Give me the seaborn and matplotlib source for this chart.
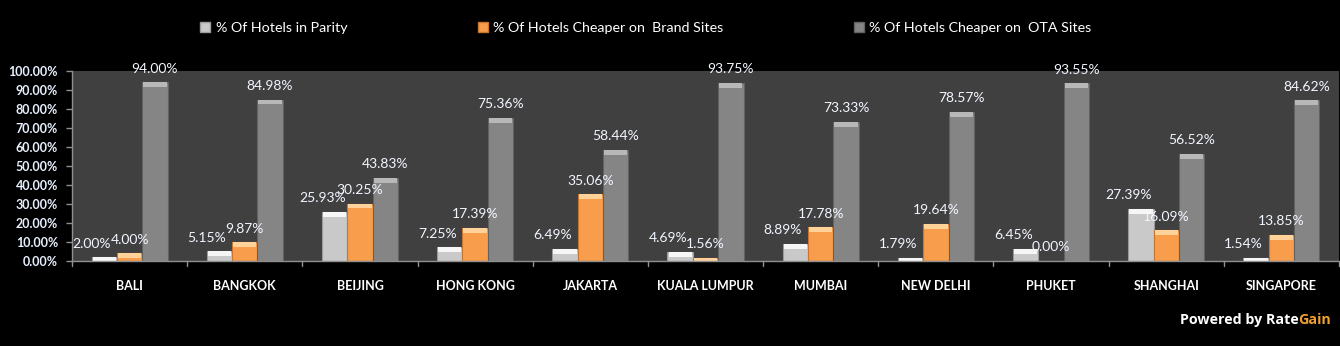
import matplotlib
matplotlib.use("Agg")
import matplotlib.pyplot as plt
import seaborn as sns
import pandas as pd
from matplotlib.patches import Rectangle, Patch

cities = ["BALI", "BANGKOK", "BEIJING", "HONG KONG", "JAKARTA", "KUALA LUMPUR",
          "MUMBAI", "NEW DELHI", "PHUKET", "SHANGHAI", "SINGAPORE"]
parity = [2.00, 5.15, 25.93, 7.25, 6.49, 4.69, 8.89, 1.79, 6.45, 27.39, 1.54]
brand = [4.00, 9.87, 30.25, 17.39, 35.06, 1.56, 17.78, 19.64, 0.00, 16.09, 13.85]
ota = [94.00, 84.98, 43.83, 75.36, 58.44, 93.75, 73.33, 78.57, 93.55, 56.52, 84.62]
series = ["% Of Hotels in Parity", "% Of Hotels Cheaper on  Brand Sites",
          "% Of Hotels Cheaper on  OTA Sites"]
yticks = [0, 10, 20, 30, 40, 50, 60, 70, 80, 90, 100]

colors = ["#c9c9c9", "#f89d4c", "#858585"]
tops = ["#f6f6f6", "#ffd29a", "#b8b8b8"]
edges = ["#9a9a9a", "#c8742c", "#626262"]
label_dx = [-9.0, 0.0, 0.0]  # horizontal nudge of value labels, points

rows = []
for s, vals in zip(series, [parity, brand, ota]):
    for c, v in zip(cities, vals):
        rows.append({"city": c, "series": s, "value": v})
df = pd.DataFrame(rows)

sns.set_theme(style="dark")
plt.rcParams["font.family"] = ["Lato", "DejaVu Sans"]

fig = plt.figure(figsize=(13.4, 3.46), dpi=100, facecolor="black")
ax = fig.add_axes([72 / 1340, 85 / 346, 1267 / 1340, 190 / 346])
ax.set_facecolor("#404040")

sns.barplot(data=df, x="city", y="value", hue="series", palette=colors,
            width=0.66, ax=ax, legend=False, saturation=1)

pad = 5.5
for cont, top, edge, dx in zip(ax.containers, tops, edges, label_dx):
    for p in cont.patches:
        p.set_edgecolor(edge)
        p.set_linewidth(0.8)
        x, w, h = p.get_x(), p.get_width(), p.get_height()
        band = min(h, 2.6)
        if band > 0:
            ax.add_patch(Rectangle((x + w * 0.04, h - band), w * 0.92, band,
                                   facecolor=top, edgecolor="none", zorder=p.get_zorder() + 0.1))
    anns = ax.bar_label(cont, labels=[f"{v:.2f}%" for v in cont.datavalues], padding=pad,
                        color="#f2f6ff", fontsize=10)
    for a in anns:
        a.xyann = (dx, pad)

ax.set_ylim(0, 100)
ax.set_xlim(-0.5, len(cities) - 0.5)
ax.set_yticks(yticks)
ax.set_yticklabels([f"{v:.2f}%" for v in yticks], color="#e8f0ff",
                   fontsize=9, fontweight="bold")
ax.set_xticks(range(len(cities)))
ax.set_xticklabels(cities, color="white", fontsize=9, fontweight="bold")
ax.tick_params(axis="x", length=0, pad=14)
ax.tick_params(axis="y", length=4, color="#909090", width=1, left=True, pad=6)
for i in range(len(cities) + 1):
    ax.plot([i - 0.5, i - 0.5], [0, -2.6], color="#909090", lw=1, clip_on=False)
ax.set_xlabel("")
ax.set_ylabel("")
ax.grid(False)
for side in ["top", "right"]:
    ax.spines[side].set_visible(False)
for side in ["left", "bottom"]:
    ax.spines[side].set_visible(True)
    ax.spines[side].set_color("#909090")
    ax.spines[side].set_linewidth(1)

handles = [Patch(facecolor=c, edgecolor=e) for c, e in zip(colors, edges)]
leg = fig.legend(handles, series, loc="center left", bbox_to_anchor=(200 / 1340, 1 - 28 / 346),
                 ncol=3, frameon=False, fontsize=10.3, labelcolor="white",
                 handlelength=0.7, handleheight=0.7, handletextpad=0.4,
                 columnspacing=9.1, borderpad=0, borderaxespad=0)

fig.text(1331 / 1340, 1 - 320 / 346, "Gain", color="#f0a030", fontsize=10.3,
         fontweight="bold", ha="right", va="center", family=["Open Sans", "DejaVu Sans"])
fig.text(1299 / 1340, 1 - 320 / 346, "Powered by Rate", color="white", fontsize=10.3,
         fontweight="bold", ha="right", va="center", family=["Open Sans", "DejaVu Sans"])

fig.savefig("out.png", dpi=100, facecolor="black")
